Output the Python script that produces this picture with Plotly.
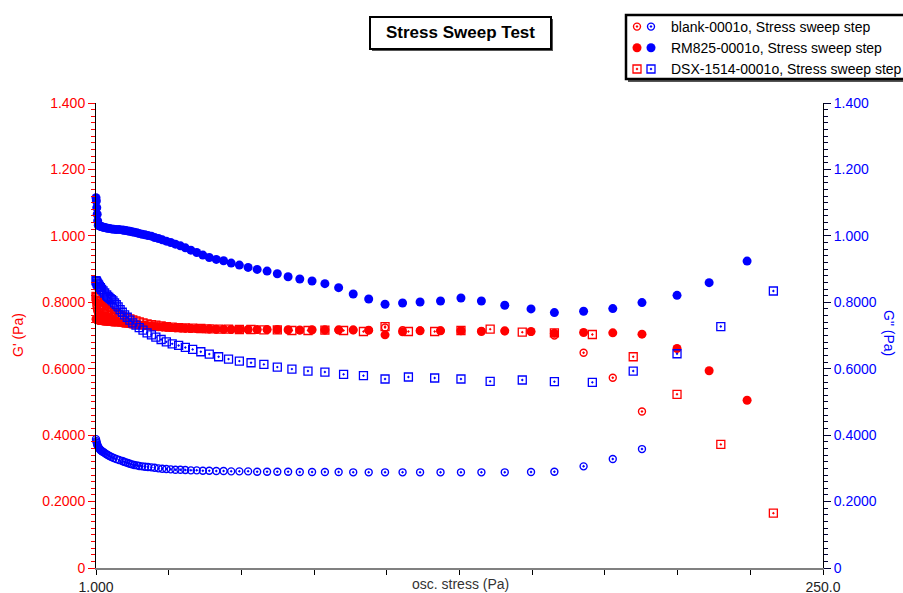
import numpy as np
import plotly.graph_objects as go

# ---------------- data ----------------
# stress levels (Pa) for blank / RM825 runs
STRESS_A = [1.00, 1.12, 1.26, 1.41, 1.58, 1.78, 2.00, 2.24, 2.51, 2.82,
            3.16, 3.55, 3.98, 4.47, 5.01, 5.62, 6.31, 7.08, 7.94, 8.91,
            10.0, 10.6, 11.2, 11.9, 12.6, 13.3, 14.1, 15.0, 15.8, 16.8,
            17.8, 18.8, 20.0, 21.1, 22.4, 23.7, 25.1, 26.6, 28.2, 29.9,
            31.6, 33.5, 35.5, 37.6, 39.8, 42.2, 44.7, 47.3, 50.1, 53.1,
            56.2, 59.6, 63.1, 66.8, 70.8, 75.0, 79.4, 84.1, 89.1, 94.4,
            100, 106, 112, 119, 126, 133, 141, 150, 158, 168,
            178, 188, 200, 211, 224]
# stress levels (Pa) for DSX-1514 run
STRESS_B = [1.00, 1.17, 1.36, 1.58, 1.85, 2.15, 2.51, 2.93, 3.41, 3.98, 4.64,
            5.01, 5.41, 5.84, 6.31, 6.81, 7.36, 7.94, 8.58, 9.26, 10.0,
            10.8, 11.7, 12.6, 13.6, 14.7, 15.8, 17.1, 18.5, 20.0, 21.5,
            23.3, 25.1, 27.1, 29.3, 31.6, 34.1, 36.9, 39.8, 43.0, 46.4,
            50.1, 54.1, 58.5, 63.1, 68.1, 73.6, 79.4, 85.8, 92.6, 100,
            108, 117, 126, 136, 147, 158, 171, 185, 200, 215,
            233]

BLANK_G1 = [0.800, 0.790, 0.782, 0.776, 0.771, 0.767, 0.763, 0.760, 0.757, 0.755,
            0.753, 0.751, 0.749, 0.748, 0.746, 0.745, 0.744, 0.743, 0.742, 0.741,
            0.740, 0.739, 0.738, 0.737, 0.736, 0.735, 0.734, 0.733, 0.732, 0.731,
            0.730, 0.729, 0.728, 0.727, 0.726, 0.725, 0.724, 0.723, 0.723, 0.722,
            0.721, 0.721, 0.720, 0.720, 0.719, 0.719, 0.718, 0.718, 0.718, 0.717,
            0.717, 0.717, 0.717, 0.716, 0.716, 0.716, 0.716, 0.716, 0.716, 0.716,
            0.724, 0.716, 0.715, 0.715, 0.715, 0.714, 0.713, 0.711, 0.700, 0.648,
            0.573, 0.471]
BLANK_G2 = [0.388, 0.382, 0.377, 0.372, 0.368, 0.364, 0.361, 0.358, 0.355, 0.353,
            0.351, 0.349, 0.346, 0.343, 0.340, 0.337, 0.334, 0.331, 0.328, 0.325,
            0.322, 0.320, 0.318, 0.316, 0.314, 0.312, 0.310, 0.309, 0.307, 0.306,
            0.305, 0.304, 0.303, 0.302, 0.300, 0.299, 0.298, 0.297, 0.296, 0.296,
            0.295, 0.294, 0.294, 0.293, 0.293, 0.292, 0.292, 0.291, 0.291, 0.291,
            0.290, 0.290, 0.290, 0.290, 0.289, 0.289, 0.289, 0.289, 0.288, 0.288,
            0.288, 0.288, 0.288, 0.288, 0.288, 0.288, 0.288, 0.289, 0.290, 0.306,
            0.328, 0.358]
RM825_G1 = [0.750, 0.749, 0.748, 0.748, 0.747, 0.747, 0.746, 0.746, 0.745, 0.745,
            0.744, 0.744, 0.743, 0.743, 0.742, 0.742, 0.741, 0.740, 0.740, 0.739,
            0.738, 0.737, 0.737, 0.736, 0.735, 0.734, 0.734, 0.733, 0.732, 0.731,
            0.730, 0.729, 0.728, 0.727, 0.726, 0.726, 0.725, 0.724, 0.723, 0.723,
            0.722, 0.721, 0.721, 0.720, 0.720, 0.719, 0.719, 0.718, 0.718, 0.718,
            0.718, 0.718, 0.718, 0.7175, 0.7165, 0.7175, 0.717, 0.717, 0.717, 0.716,
            0.702, 0.711, 0.714, 0.714, 0.714, 0.712, 0.714, 0.712, 0.707, 0.709,
            0.708, 0.704, 0.661, 0.594, 0.505]
RM825_G2 = [1.115, 1.105, 1.085, 1.065, 1.045, 1.032, 1.031, 1.030, 1.029, 1.028,
            1.027, 1.026, 1.025, 1.024, 1.023, 1.022, 1.021, 1.020, 1.019, 1.019,
            1.018, 1.017, 1.016, 1.015, 1.014, 1.012, 1.011, 1.009, 1.007, 1.005,
            1.003, 1.001, 0.999, 0.995, 0.992, 0.988, 0.984, 0.980, 0.975, 0.970,
            0.964, 0.957, 0.950, 0.942, 0.935, 0.929, 0.925, 0.918, 0.912, 0.905,
            0.899, 0.894, 0.886, 0.877, 0.870, 0.864, 0.856, 0.844, 0.825, 0.810,
            0.794, 0.798, 0.801, 0.804, 0.813, 0.804, 0.791, 0.780, 0.769, 0.773,
            0.781, 0.799, 0.821, 0.859, 0.924]
DSX_G1 = [0.818, 0.814, 0.810, 0.806, 0.802, 0.798, 0.794, 0.790, 0.786, 0.782, 0.778,
          0.776, 0.774, 0.772, 0.770, 0.768, 0.766, 0.764, 0.762, 0.760, 0.758,
          0.755, 0.752, 0.750, 0.747, 0.744, 0.741, 0.738, 0.735, 0.733, 0.731,
          0.729, 0.727, 0.725, 0.724, 0.723, 0.722, 0.721, 0.720, 0.719, 0.719,
          0.718, 0.718, 0.717, 0.717, 0.715, 0.715, 0.716, 0.715, 0.712, 0.727,
          0.712, 0.712, 0.715, 0.719, 0.710, 0.708, 0.703, 0.636, 0.523, 0.372,
          0.165]
DSX_G2 = [0.865, 0.862, 0.858, 0.855, 0.852, 0.848, 0.844, 0.839, 0.834, 0.828, 0.822,
          0.818, 0.815, 0.811, 0.808, 0.804, 0.798, 0.793, 0.786, 0.778, 0.770,
          0.762, 0.755, 0.746, 0.738, 0.731, 0.724, 0.716, 0.708, 0.702, 0.695,
          0.688, 0.681, 0.675, 0.670, 0.664, 0.658, 0.651, 0.644, 0.636, 0.629,
          0.623, 0.618, 0.613, 0.605, 0.599, 0.593, 0.590, 0.583, 0.579, 0.569,
          0.575, 0.572, 0.569, 0.562, 0.566, 0.561, 0.559, 0.593, 0.645, 0.727,
          0.834]

SERIES_NAMES = ["blank-0001o, Stress sweep step",
                "RM825-0001o, Stress sweep step",
                "DSX-1514-0001o, Stress sweep step"]
X_RANGE = [1.0, 250.0]
X_TICK_LABELS = ["1.000", "", "", "", "", "", "", "", "", "", "250.0"]
Y_RANGE = [0.0, 1.4]
Y_TICK_VALS = [0.0, 0.2, 0.4, 0.6, 0.8, 1.0, 1.2, 1.4]
Y_TICK_LABELS = ["0", "0.2000", "0.4000", "0.6000", "0.8000", "1.000", "1.200", "1.400"]

# ---------------- layout geometry helpers ----------------
W, H = 903, 593
L, R, T, B = 96, 80, 103, 25
PW, PH = W - L - R, H - T - B


def px(xp):
    return (xp - L) / PW


def py(yp):
    return (H - B - yp) / PH


FONT = "Liberation Sans, Arial, sans-serif"
RED = "#ff0000"
BLUE = "#0000ff"

fig = go.Figure()

specs = [
    (STRESS_A, BLANK_G1, "y", RED, "circle-open-dot", 7, 1.4, "legend", ""),
    (STRESS_A, BLANK_G2, "y2", BLUE, "circle-open-dot", 7, 1.4, "legend2", SERIES_NAMES[0]),
    (STRESS_A, RM825_G1, "y", RED, "circle", 9, 0, "legend", ""),
    (STRESS_A, RM825_G2, "y2", BLUE, "circle", 9, 0, "legend2", SERIES_NAMES[1]),
    (STRESS_B, DSX_G1, "y", RED, "square-open-dot", 8, 1.3, "legend", ""),
    (STRESS_B, DSX_G2, "y2", BLUE, "square-open-dot", 8, 1.3, "legend2", SERIES_NAMES[2]),
]
for xs, ys, yax, col, sym, size, lw, leg, name in specs:
    fig.add_trace(go.Scatter(
        x=xs[:len(ys)], y=ys, yaxis=yax, mode="markers", name=name,
        legend=leg, cliponaxis=False,
        marker=dict(symbol=sym, size=size, color=col, line=dict(width=lw, color=col)),
    ))

x_tickvals = list(np.linspace(X_RANGE[0], X_RANGE[1], len(X_TICK_LABELS)))

fig.update_layout(
    width=W, height=H,
    margin=dict(l=L, r=R, t=T, b=B, autoexpand=False),
    paper_bgcolor="white", plot_bgcolor="white",
    font=dict(family=FONT, size=14, color="#222"),
    xaxis=dict(range=X_RANGE, tickmode="array", tickvals=x_tickvals, ticktext=X_TICK_LABELS,
               ticks="outside", ticklen=5, tickwidth=1, tickcolor="#000",
               showline=True, linecolor="#808080", linewidth=2,
               showgrid=False, zeroline=False,
               tickfont=dict(family=FONT, size=14, color="#222")),
    yaxis=dict(range=Y_RANGE, tickmode="array", tickvals=Y_TICK_VALS, ticktext=Y_TICK_LABELS,
               ticks="outside", ticklen=7, tickwidth=1, tickcolor=RED,
               showline=True, linecolor="#000", linewidth=1,
               showgrid=False, zeroline=False,
               minor=dict(dtick=0.02, tick0=0, ticks="outside", ticklen=4, tickcolor=RED, showgrid=False),
               tickfont=dict(family=FONT, size=14, color=RED)),
    yaxis2=dict(range=Y_RANGE, overlaying="y", side="right", anchor="x",
                tickmode="array", tickvals=Y_TICK_VALS, ticktext=Y_TICK_LABELS,
                ticks="outside", ticklen=7, tickwidth=1, tickcolor="#000033",
                showline=True, linecolor="#000", linewidth=1,
                showgrid=False, zeroline=False,
                minor=dict(dtick=0.02, tick0=0, ticks="outside", ticklen=4, tickcolor="#000033", showgrid=False),
                tickfont=dict(family=FONT, size=14, color=BLUE)),
    legend=dict(x=px(617), y=py(11), xanchor="left", yanchor="top",
                bgcolor="rgba(0,0,0,0)", borderwidth=0,
                font=dict(family=FONT, size=14, color="#000")),
    legend2=dict(x=px(631), y=py(11), xanchor="left", yanchor="top",
                 bgcolor="rgba(0,0,0,0)", borderwidth=0,
                 font=dict(family=FONT, size=14, color="#000")),
    showlegend=True,
)

# legend frame and title box (with drop shadow)
shapes = [
    dict(type="rect", xref="paper", yref="paper", x0=px(628), x1=px(912), y0=py(82), y1=py(18),
         line=dict(width=0), fillcolor="#555"),
    dict(type="rect", xref="paper", yref="paper", x0=px(626), x1=px(910), y0=py(79), y1=py(15),
         line=dict(width=2.5, color="#000"), fillcolor="white"),
    dict(type="rect", xref="paper", yref="paper", x0=px(372), x1=px(553), y0=py(51), y1=py(19),
         line=dict(width=0), fillcolor="#555"),
    dict(type="rect", xref="paper", yref="paper", x0=px(370), x1=px(551), y0=py(49), y1=py(17),
         line=dict(width=2, color="#000"), fillcolor="white"),
]
fig.update_layout(shapes=shapes)

annotations = [
    dict(text="<b>Stress Sweep Test</b>", x=px(460), y=py(33), xref="paper", yref="paper",
         showarrow=False, xanchor="center", yanchor="middle",
         font=dict(family=FONT, size=17, color="#000")),
    dict(text="osc. stress (Pa)", x=px(460), y=py(584), xref="paper", yref="paper",
         showarrow=False, xanchor="center", yanchor="middle",
         font=dict(family=FONT, size=14, color="#333")),
    dict(text="G' (Pa)", x=px(18), y=py(335), xref="paper", yref="paper",
         showarrow=False, xanchor="center", yanchor="middle", textangle=-90,
         font=dict(family=FONT, size=14, color=RED)),
    dict(text="G\" (Pa)", x=px(889), y=py(333), xref="paper", yref="paper",
         showarrow=False, xanchor="center", yanchor="middle", textangle=90,
         font=dict(family=FONT, size=14, color=BLUE)),
]
fig.update_layout(annotations=annotations)

fig.write_html("out.html", config={"displayModeBar": False},
               post_script="document.body.style.margin='0px';document.body.style.padding='0px';")
